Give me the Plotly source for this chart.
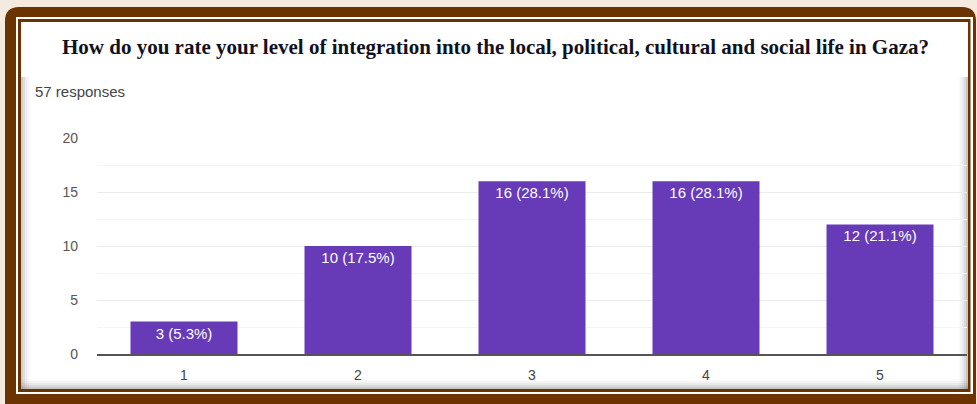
import plotly.graph_objects as go

# Survey results: rating of integration level (1 = lowest, 5 = highest)
ratings = ["1", "2", "3", "4", "5"]
counts = [3, 10, 16, 16, 12]
percents = [5.3, 17.5, 28.1, 28.1, 21.1]
total_responses = 57
title_text = ("How do you rate your level of integration into the local, political, "
              "cultural and social life in Gaza?")

W, H = 977, 404
ML, MR, MT, MB = 97, 10, 138, 50
PW, PH = W - ML - MR, H - MT - MB

BROWN = "#6b3300"
PURPLE = "#673ab7"
SANS = "Liberation Sans, Arial, sans-serif"


def px(x):
    return (x - ML) / PW


def py(y):
    return (H - MB - y) / PH


def rect(x0, y0, x1, y1, color, opacity=1.0):
    return dict(type="rect", xref="paper", yref="paper", layer="below",
                x0=px(x0), x1=px(x1), y0=py(y1), y1=py(y0),
                fillcolor=color, opacity=opacity, line=dict(width=0))


def rounded(x0, y0, x1, y1, r, color):
    X0, X1 = px(x0), px(x1)
    Y0, Y1 = py(y1), py(y0)
    rx, ry = r / PW, r / PH
    path = (f"M{X0 + rx},{Y1} L{X1 - rx},{Y1} Q{X1},{Y1} {X1},{Y1 - ry} "
            f"L{X1},{Y0 + ry} Q{X1},{Y0} {X1 - rx},{Y0} L{X0 + rx},{Y0} "
            f"Q{X0},{Y0} {X0},{Y0 + ry} L{X0},{Y1 - ry} Q{X0},{Y1} {X0 + rx},{Y1} Z")
    return dict(type="path", xref="paper", yref="paper", layer="below", path=path,
                fillcolor=color, line=dict(width=0))


shapes = [
    rounded(5, 7, 976, 420, 14, BROWN),
    rect(16, 17, 973, 394, "white"),
    rect(18, 19, 970.5, 392, BROWN),
    rect(21, 22, 968, 389, "white"),
]

# soft drop shadow around the embedded chart panel
for i, op in enumerate([0.22, 0.15, 0.10, 0.06, 0.03]):
    shapes.append(rect(21, 77, 23 + 2 * i, 389, "#606060", op * 0.6))
    shapes.append(rect(966 - 2 * i, 77, 968, 389, "#606060", op * 0.7))
    shapes.append(rect(21, 387 - 2 * i, 968, 389, "#606060", op * 0.7))

fig = go.Figure(go.Bar(
    x=ratings,
    y=counts,
    marker=dict(color=PURPLE, line=dict(width=0)),
    text=[f"{c} ({p}%)" for c, p in zip(counts, percents)],
    textposition="inside",
    insidetextanchor="end",
    textangle=0,
    constraintext="none",
    textfont=dict(family=SANS, size=15, color="white"),
    hoverinfo="skip",
))

fig.update_layout(
    width=W, height=H,
    margin=dict(l=ML, r=MR, t=MT, b=MB),
    paper_bgcolor="#f4eadf",
    plot_bgcolor="rgba(0,0,0,0)",
    bargap=0.385,
    showlegend=False,
    shapes=shapes,
    annotations=[
        dict(text=f"<b>{title_text}</b>", xref="paper", yref="paper",
             x=px(495), y=py(47), xanchor="center", yanchor="middle", showarrow=False,
             font=dict(family="Liberation Serif, Times New Roman, serif", size=21,
                       color="#111122")),
        dict(text=f"{total_responses} responses", xref="paper", yref="paper",
             x=px(33), y=py(92), xanchor="left", yanchor="middle", showarrow=False,
             font=dict(family=SANS, size=15, color="#444444")),
    ],
)

fig.update_yaxes(
    range=[0, 20], tickvals=[0, 5, 10, 15, 20],
    showgrid=True, gridcolor="#ebebeb", gridwidth=1,
    minor=dict(dtick=2.5, showgrid=True, gridcolor="#f4f4f4", gridwidth=1),
    zeroline=False, showline=False, ticks="",
    ticklabelstandoff=18,
    tickfont=dict(family=SANS, size=14, color="#555555"),
    fixedrange=True,
)
fig.update_xaxes(
    showgrid=False, showline=True, linecolor="#555555", linewidth=1.5,
    ticks="", ticklabelstandoff=7,
    tickfont=dict(family=SANS, size=14, color="#444444"),
    fixedrange=True,
)

fig.write_html("out.html")
